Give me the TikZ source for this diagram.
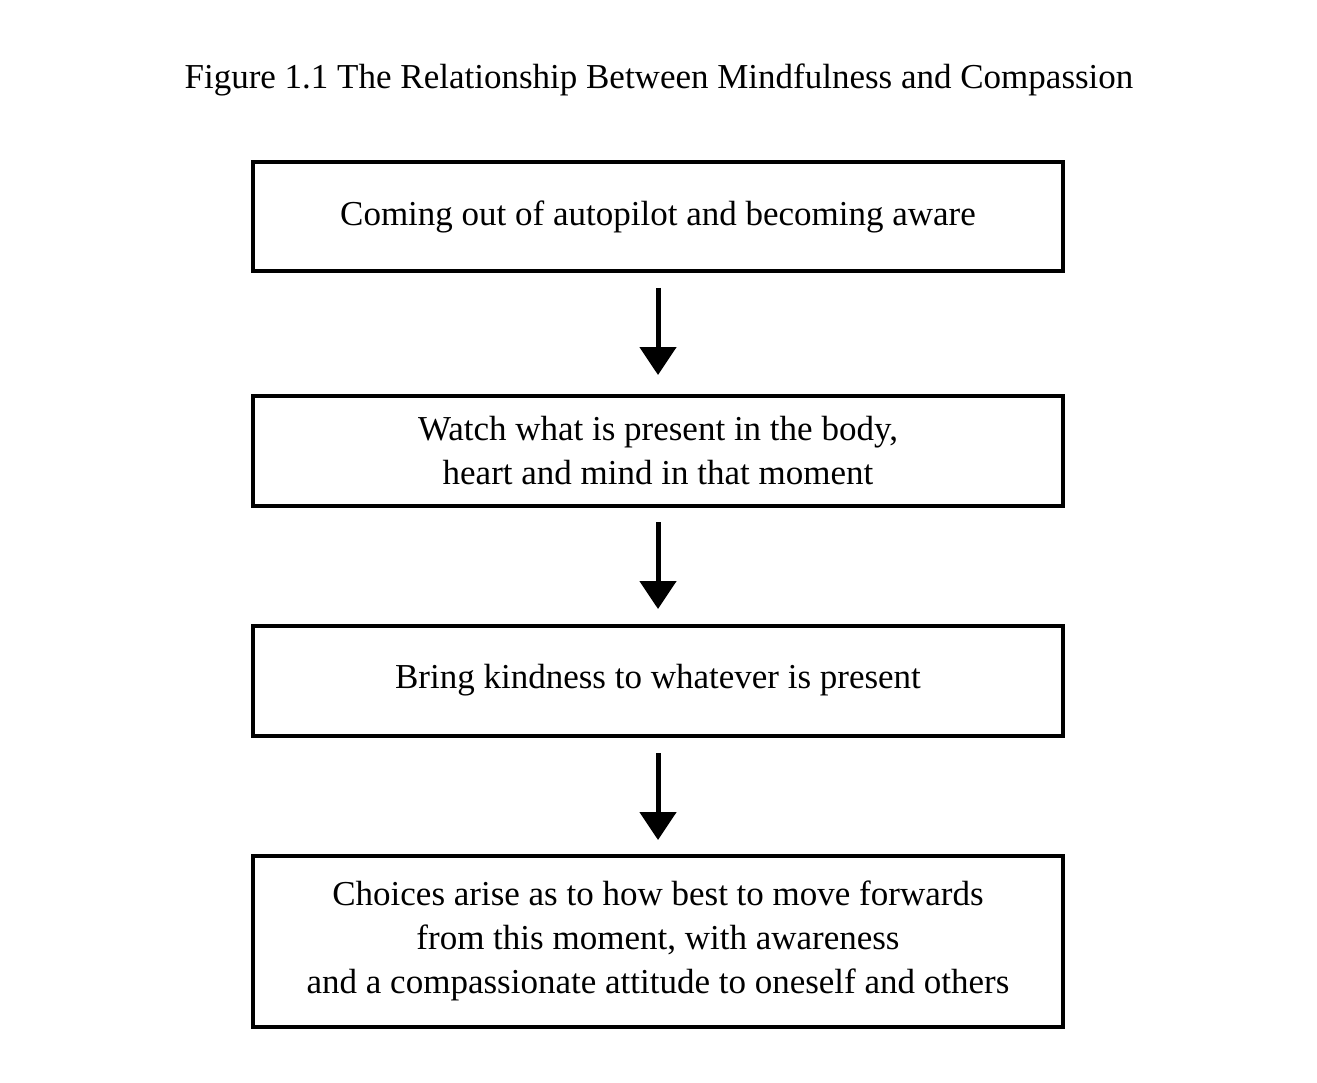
\documentclass[tikz,border=0pt]{standalone}
\usepackage{fontspec}
\setmainfont{Liberation Serif}
\usetikzlibrary{arrows.meta}
\begin{document}
\begin{tikzpicture}[x=1pt,y=-1pt,
  box/.style={draw,line width=4pt,minimum width=810pt,align=center,font=\fontsize{35}{44}\selectfont,inner sep=0pt},
  arr/.style={line width=5pt,-{Triangle[width=36pt,length=28pt]}}]
\useasboundingbox (0,0) rectangle (1317,1083);
\node[font=\fontsize{35}{42}\selectfont] (t) at (659,80) {Figure 1.1 The Relationship Between Mindfulness and Compassion};
\node[box,minimum height=109pt] (b1) at (658,217) {Coming out of autopilot and becoming aware};
\node[box,minimum height=110pt] (b2) at (658,450.5) {Watch what is present in the body,\\heart and mind in that moment};
\node[box,minimum height=110pt] (b3) at (658,680.5) {Bring kindness to whatever is present};
\node[box,minimum height=171pt] (b4) at (658,941) {Choices arise as to how best to move forwards\\from this moment, with awareness\\and a compassionate attitude to oneself and others};
\coordinate (a1s) at (658,288); \coordinate (a1e) at (658,375);
\coordinate (a2s) at (658,522); \coordinate (a2e) at (658,609);
\coordinate (a3s) at (658,753); \coordinate (a3e) at (658,840);
\draw[arr] (a1s) -- (a1e);
\draw[arr] (a2s) -- (a2e);
\draw[arr] (a3s) -- (a3e);
\end{tikzpicture}
\end{document}
